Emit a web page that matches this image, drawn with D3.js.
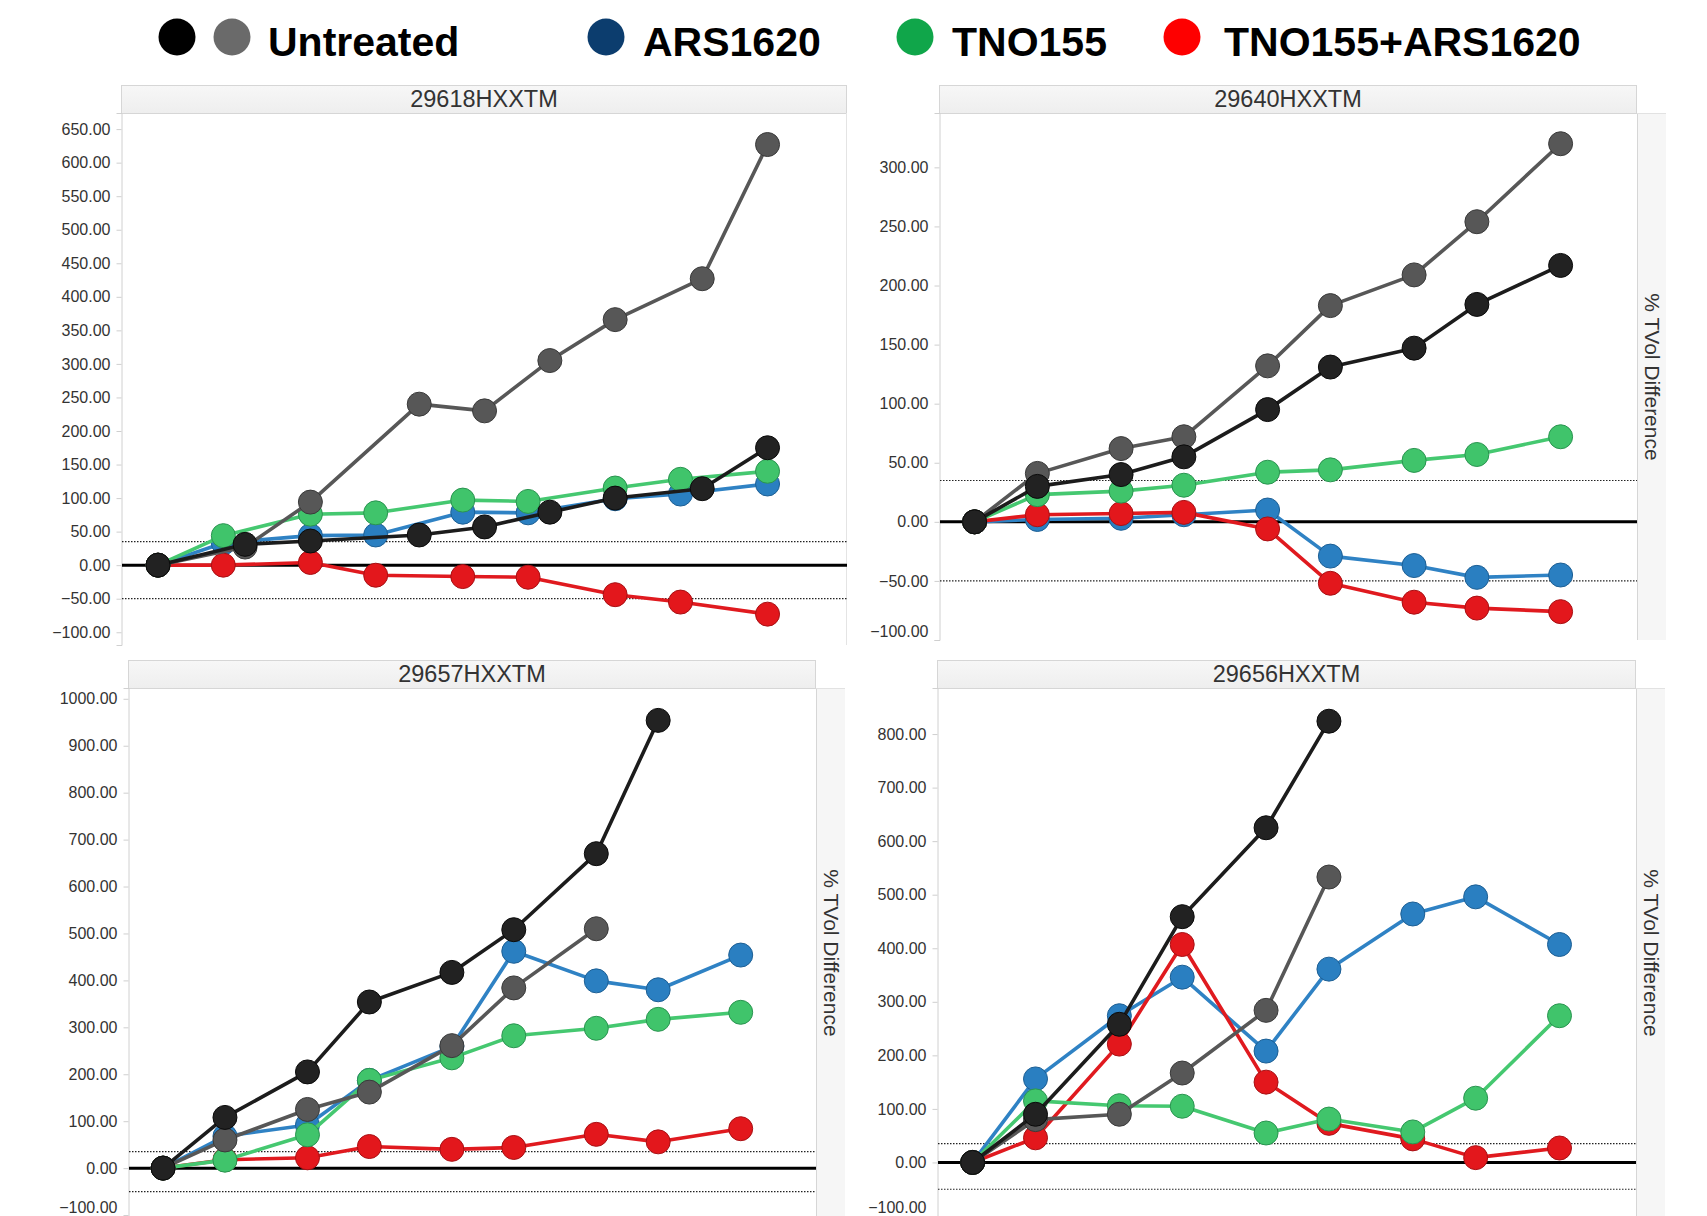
<!DOCTYPE html>
<html><head><meta charset="utf-8">
<script src="https://cdn.jsdelivr.net/npm/d3@7"></script>
<style>
body{margin:0;background:#fff;}
svg{display:block;font-family:"Liberation Sans",Arial,sans-serif;}
</style>
</head><body>
<svg id="chart" width="1707" height="1216"></svg>
<script>
// ---------------- DATA ----------------
const panelTitles = ["29618HXXTM", "29640HXXTM", "29657HXXTM", "29656HXXTM"];
const legendLabels = ["Untreated", "ARS1620", "TNO155", "TNO155+ARS1620"];

// measurement days
const daysTreated = [0, 3, 7, 10, 14, 17, 21, 24, 28];
const daysUntreatedP1 = [0, 4, 7, 12, 15, 18, 21, 25, 28];

// Panel 1: 29618HXXTM
const p1UntreatedA = [0, 31, 36, 45, 57, 79, 100, 114, 175];
const p1UntreatedB = [0, 27, 94, 240, 230, 305, 366, 427, 627];
const p1ARS = [0, 33, 44, 45, 79, 78, 99, 106, 121];
const p1TNO = [0, 44, 76, 78, 97, 95, 115, 128, 140];
const p1Combo = [0, 0, 4, -15, -17, -18, -44, -55, -73];

// Panel 2: 29640HXXTM
const p2UntreatedA = [0, 30, 40, 55, 95, 131, 147, 184, 217];
const p2UntreatedB = [0, 41, 62, 72, 132, 183, 209, 254, 320];
const p2ARS = [0, 2, 3, 6, 10, -29, -37, -47, -45];
const p2TNO = [0, 23, 26, 31, 42, 44, 52, 57, 72];
const p2Combo = [0, 6, 7, 8, -6, -52, -68, -73, -76];

// Panel 3: 29657HXXTM
const p3UntreatedA = [0, 108, 205, 354, 417, 508, 670, 954];
const p3UntreatedB = [0, 60, 125, 162, 261, 384, 510];
const p3ARS = [0, 68, 92, 187, 259, 462, 399, 380, 454];
const p3TNO = [0, 17, 71, 187, 235, 282, 298, 317, 332];
const p3Combo = [0, 18, 22, 46, 40, 44, 72, 56, 84];

// Panel 4: 29656HXXTM
const p4UntreatedA = [0, 90, 258, 459, 625, 824];
const p4UntreatedB = [0, 80, 90, 167, 284, 533];
const p4ARS = [0, 156, 274, 346, 208, 361, 464, 496, 407];
const p4TNO = [0, 115, 106, 105, 55, 81, 57, 120, 274];
const p4Combo = [0, 46, 221, 407, 150, 73, 44, 9, 27];

// y tick labels
const ticksP1 = [-100, -50, 0, 50, 100, 150, 200, 250, 300, 350, 400, 450, 500, 550, 600, 650];
const ticksP2 = [-100, -50, 0, 50, 100, 150, 200, 250, 300];
const ticksP3 = [-100, 0, 100, 200, 300, 400, 500, 600, 700, 800, 900, 1000];
const ticksP4 = [-100, 0, 100, 200, 300, 400, 500, 600, 700, 800];

// reference lines
const refLines = [35, -50];
const axisTitle = "% TVol Difference";

// ---------------- STYLE ----------------
const seriesStyle = {
  ARS:   {line: "#2f82c4", fill: "#2a7fc1", stroke: "#1d5f94"},
  Combo: {line: "#e01a1f", fill: "#e3171c", stroke: "#a81014"},
  TNO:   {line: "#45c870", fill: "#40c46b", stroke: "#2a9450"},
  UB:    {line: "#575757", fill: "#575757", stroke: "#3a3a3a"},
  UA:    {line: "#1c1c1c", fill: "#222222", stroke: "#0a0a0a"}
};
const legendColors = [["#000000", "#6a6a6a"], ["#0c3d6e"], ["#10a64a"], ["#fe0000"]];

function seriesFor(A, B, ars, tno, combo, daysU) {
  const z = (vals, d) => vals.map((v, i) => ({day: d[i], v}));
  return [
    {key: "ARS", pts: z(ars, daysTreated)},
    {key: "Combo", pts: z(combo, daysTreated)},
    {key: "TNO", pts: z(tno, daysTreated)},
    {key: "UB", pts: z(B, daysU)},
    {key: "UA", pts: z(A, daysU)}
  ];
}

const panels = [
  {title: panelTitles[0], x0: 121, x1: 847, hTop: 85, yTop: 113, yBot: 645, strip: false,
   yDom: [-119, 674], ticks: ticksP1,
   series: seriesFor(p1UntreatedA, p1UntreatedB, p1ARS, p1TNO, p1Combo, daysUntreatedP1)},
  {title: panelTitles[1], x0: 939, x1: 1637, hTop: 85, yTop: 113, yBot: 640, strip: true,
   yDom: [-100, 346], ticks: ticksP2,
   series: seriesFor(p2UntreatedA, p2UntreatedB, p2ARS, p2TNO, p2Combo, daysTreated)},
  {title: panelTitles[2], x0: 128, x1: 816, hTop: 660, yTop: 688, yBot: 1216, strip: true,
   yDom: [-102, 1023], ticks: ticksP3,
   series: seriesFor(p3UntreatedA, p3UntreatedB, p3ARS, p3TNO, p3Combo, daysTreated)},
  {title: panelTitles[3], x0: 937, x1: 1636, hTop: 660, yTop: 688, yBot: 1216, strip: true,
   yDom: [-100, 886], ticks: ticksP4,
   series: seriesFor(p4UntreatedA, p4UntreatedB, p4ARS, p4TNO, p4Combo, daysTreated)}
];

const svg = d3.select("#chart");
const defs = svg.append("defs");
const hdrGrad = defs.append("linearGradient").attr("id", "hdr").attr("x1", 0).attr("x2", 0).attr("y1", 0).attr("y2", 1);
hdrGrad.append("stop").attr("offset", "0%").attr("stop-color", "#f7f7f7");
hdrGrad.append("stop").attr("offset", "100%").attr("stop-color", "#eeeeee");

// ---------------- LEGEND ----------------
const legendPos = [
  {circles: [177, 232], tx: 268},
  {circles: [606], tx: 643},
  {circles: [915], tx: 952},
  {circles: [1182], tx: 1224}
];
const lg = svg.append("g");
legendLabels.forEach((lab, i) => {
  legendPos[i].circles.forEach((cx, j) => {
    lg.append("circle").attr("cx", cx).attr("cy", 37).attr("r", 18.5).attr("fill", legendColors[i][j]);
  });
  lg.append("text").attr("x", legendPos[i].tx).attr("y", 56)
    .attr("font-size", 41).attr("font-weight", "bold").attr("fill", "#000").text(lab);
});

// ---------------- PANELS ----------------
panels.forEach((p, pi) => {
  const g = svg.append("g");
  const x = d3.scaleLinear().domain([-1.7, 31.65]).range([p.x0, p.x1]);
  const y = d3.scaleLinear().domain(p.yDom).range([p.yBot, p.yTop]);

  // pane
  g.append("rect").attr("x", p.x0).attr("y", p.yTop).attr("width", p.x1 - p.x0).attr("height", p.yBot - p.yTop)
    .attr("fill", "#ffffff");
  // header
  g.append("rect").attr("x", p.x0 + 0.5).attr("y", p.hTop + 0.5).attr("width", p.x1 - p.x0 - 1).attr("height", p.yTop - p.hTop)
    .attr("fill", "url(#hdr)").attr("stroke", "#d6d6d6").attr("stroke-width", 1);
  g.append("text").attr("x", (p.x0 + p.x1) / 2).attr("y", p.hTop + 22).attr("text-anchor", "middle")
    .attr("font-size", 23.5).attr("fill", "#333").text(p.title);

  // right strip with axis title
  if (p.strip) {
    g.append("rect").attr("x", p.x1).attr("y", p.yTop).attr("width", 29).attr("height", p.yBot - p.yTop)
      .attr("fill", "#f6f6f6");
    g.append("line").attr("x1", p.x1 + 0.5).attr("x2", p.x1 + 0.5).attr("y1", p.yTop).attr("y2", p.yBot)
      .attr("stroke", "#d6d6d6");
    g.append("line").attr("x1", p.x1).attr("x2", p.x1 + 29).attr("y1", p.yTop + 0.5).attr("y2", p.yTop + 0.5)
      .attr("stroke", "#e2e2e2");
    const cy = pi === 1 ? 377 : 953;
    g.append("text").attr("transform", `translate(${p.x1 + 8},${cy}) rotate(90)`)
      .attr("text-anchor", "middle").attr("font-size", 21).attr("fill", "#333").text(axisTitle);
  } else {
    g.append("line").attr("x1", p.x1 - 0.5).attr("x2", p.x1 - 0.5).attr("y1", p.yTop).attr("y2", p.yBot)
      .attr("stroke", "#e4e4e4");
  }

  // y axis
  const yAxis = d3.axisLeft(y).tickValues(p.ticks).tickSize(5).tickPadding(6).tickFormat(d3.format(".2f"));
  const ax = g.append("g").attr("transform", `translate(${p.x0 + 0.5},0)`).call(yAxis);
  ax.select(".domain").attr("stroke", "#d0d0d0");
  ax.selectAll(".tick line").attr("stroke", "#cfcfcf");
  ax.selectAll(".tick text").attr("font-size", 16).attr("fill", "#333")
    .attr("font-family", "'Liberation Sans',Arial,sans-serif")
    .attr("y", d => Math.min(0, (p.yBot - 9) - y(d)));

  // reference lines
  refLines.forEach(v => {
    g.append("line").attr("x1", p.x0 + 1).attr("x2", p.x1).attr("y1", y(v)).attr("y2", y(v))
      .attr("stroke", "#222").attr("stroke-width", 1.2).attr("stroke-dasharray", "1.5,1.5");
  });
  g.append("line").attr("x1", p.x0 + 1).attr("x2", p.x1).attr("y1", y(0)).attr("y2", y(0))
    .attr("stroke", "#000").attr("stroke-width", 3);

  // series
  const line = d3.line().x(d => x(d.day)).y(d => y(d.v));
  p.series.forEach(s => {
    const st = seriesStyle[s.key];
    const sg = g.append("g");
    sg.append("path").attr("d", line(s.pts)).attr("fill", "none")
      .attr("stroke", st.line).attr("stroke-width", 3.6).attr("stroke-linejoin", "round");
    sg.selectAll("circle").data(s.pts).join("circle")
      .attr("cx", d => x(d.day)).attr("cy", d => y(d.v)).attr("r", 12)
      .attr("fill", st.fill).attr("stroke", st.stroke).attr("stroke-width", 1);
  });
});
</script>
</body></html>
